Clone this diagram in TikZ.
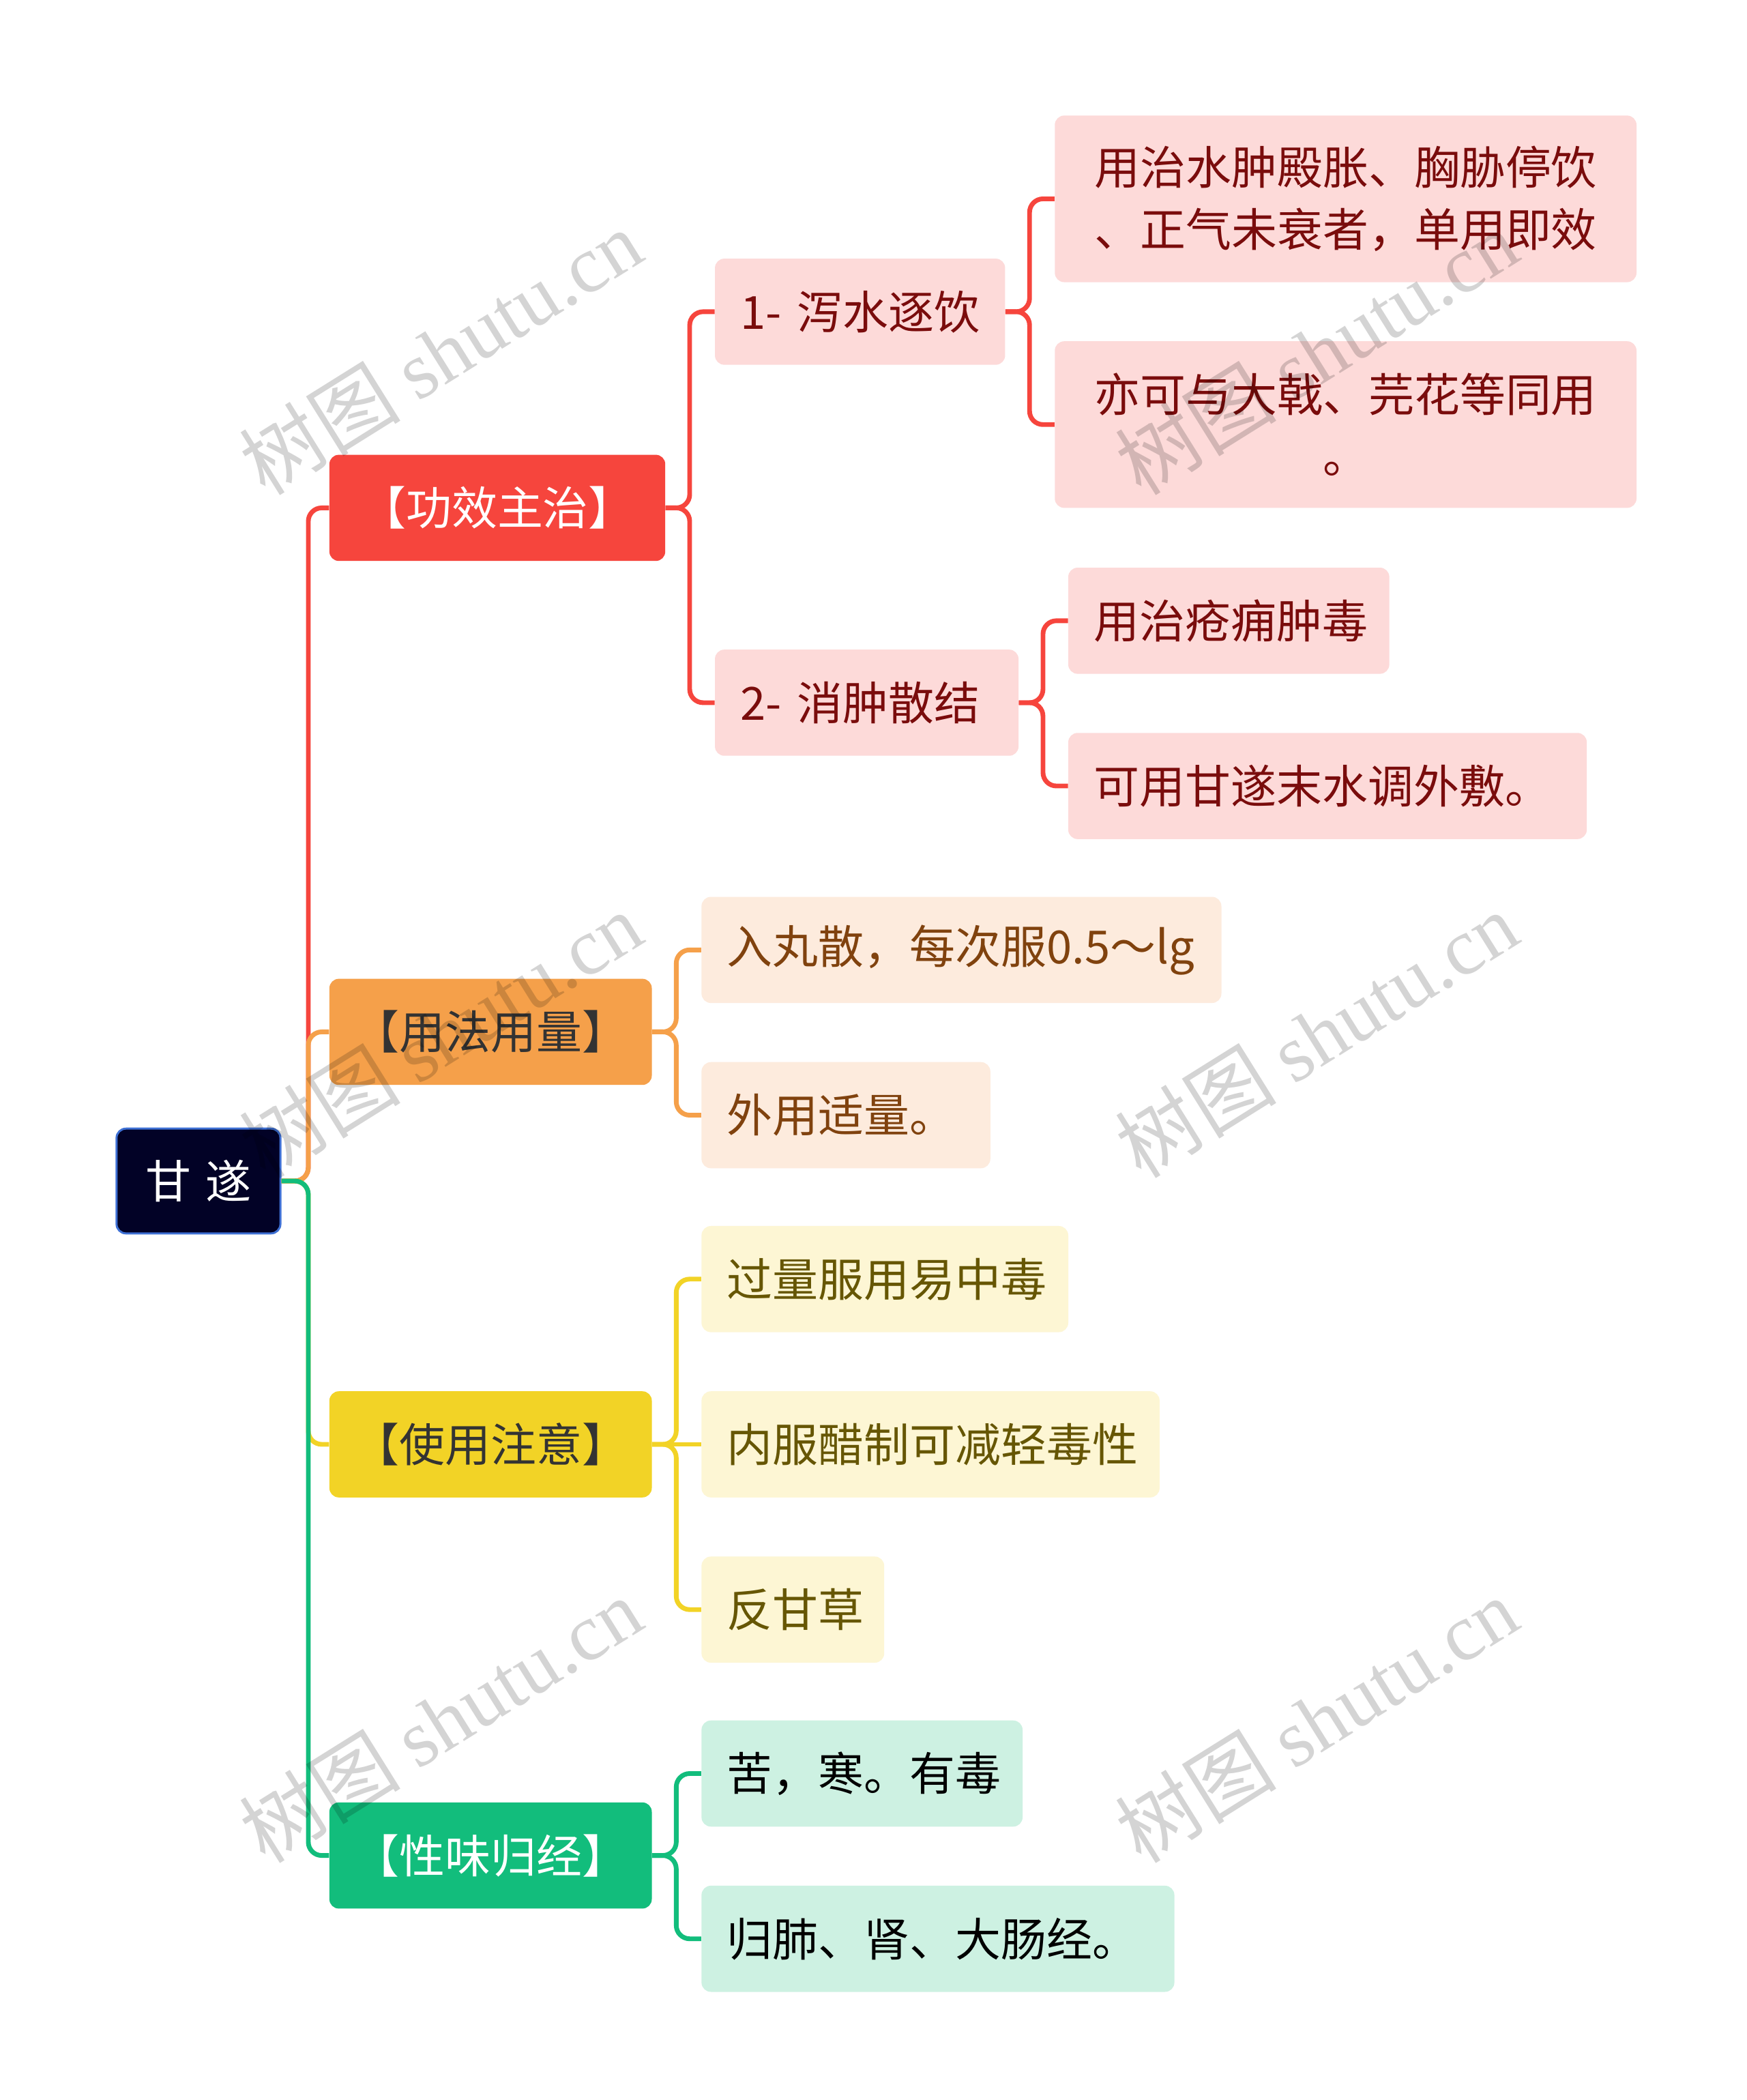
\documentclass[tikz,border=0pt]{standalone}
\usepackage{fontspec}
\setmainfont{Noto Sans CJK SC}
\newfontfamily\wmlatin{Liberation Serif}
\usepackage{xcolor}
\usetikzlibrary{positioning}
\definecolor{rootnavy}{RGB}{2, 2, 38}
\definecolor{rootedge}{RGB}{62, 112, 212}
\definecolor{redmain}{RGB}{246, 69, 61}
\definecolor{redlight}{RGB}{253, 218, 217}
\definecolor{redtext}{RGB}{122, 12, 12}
\definecolor{orangemain}{RGB}{245, 160, 74}
\definecolor{orangelight}{RGB}{253, 235, 221}
\definecolor{orangetext}{RGB}{128, 66, 14}
\definecolor{yellowmain}{RGB}{242, 211, 38}
\definecolor{yellowlight}{RGB}{253, 246, 212}
\definecolor{yellowtext}{RGB}{102, 86, 4}
\definecolor{greenmain}{RGB}{18, 189, 124}
\definecolor{greenlight}{RGB}{205, 241, 226}
\definecolor{greentext}{RGB}{0, 0, 0}
\definecolor{darktext}{RGB}{51, 51, 51}

\begin{document}
\begin{tikzpicture}[x=1pt, y=-1pt,
    box/.style={rounded corners=7pt, anchor=west, minimum height=79pt,
        inner ysep=0pt, font=\fontsize{34pt}{46pt}\selectfont},
    cat/.style={box, fill=#1main, inner xsep=0pt},
    leaf/.style={box, fill=#1light, text=#1text, inner xsep=19pt, align=left},
    link/.style={draw=#1main, line width=3.5pt, rounded corners=10pt},
    wmark/.style={rotate=32, text=black, text opacity=0.17,
        font=\fontsize{60pt}{60pt}\selectfont}]
    \path[use as bounding box, fill=white] (0,0) rectangle (1300,1563);

    % Root
    \node[box, fill=rootnavy, draw=rootedge, line width=1.5pt, text=white,
        minimum width=122pt, minimum height=78pt] (root) at (86,879) {甘\hspace{0.3em}遂};

    % Main branches
    \node[cat=red, text=white, minimum width=250pt] (gx) at (245,378) {【功效主治】};
    \node[cat=orange, text=darktext, minimum width=240pt] (yf) at (245,768) {【用法用量】};
    \node[cat=yellow, text=darktext, minimum width=240pt] (zy) at (245,1075) {【使用注意】};
    \node[cat=green, text=white, minimum width=240pt] (xw) at (245,1381) {【性味归经】};

    % 功效主治
    \node[leaf=red, text width=178pt] (gx1) at (532,232) {\mbox{1- 泻水逐饮}};
    \node[leaf=red, text width=188pt] (gx2) at (532,523) {\mbox{2- 消肿散结}};
    \node[leaf=red, align=center, text width=395pt, minimum height=124pt] (gx11) at (785,148)
        {用治水肿殿胀、胸胁停饮\\、正气未衰者，单用即效};
    \node[leaf=red, align=center, text width=395pt, minimum height=124pt] (gx12) at (785,316)
        {亦可与大戟、芫花等同用\\。};
    \node[leaf=red, text width=201pt] (gx21) at (795,462) {用治疮痈肿毒};
    \node[leaf=red, text width=348pt] (gx22) at (795,585) {可用甘遂末水调外敷。};

    % 用法用量
    \node[leaf=orange, text width=349pt] (yf1) at (522,707) {入丸散，每次服0.5～lg};
    \node[leaf=orange, text width=177pt] (yf2) at (522,830) {外用适量。};

    % 使用注意
    \node[leaf=yellow, text width=235pt] (zy1) at (522,952) {过量服用易中毒};
    \node[leaf=yellow, text width=303pt] (zy2) at (522,1075) {内服醋制可减轻毒性};
    \node[leaf=yellow, text width=98pt] (zy3) at (522,1198) {反甘草};

    % 性味归经
    \node[leaf=green, text width=201pt] (xw1) at (522,1320) {苦，寒。有毒};
    \node[leaf=green, text width=314pt] (xw2) at (522,1443) {归肺、肾、大肠经。};

    % Connectors
    \draw[link=red] (root.east) -- ++(20,0) |- (gx.west);
    \draw[link=orange] (root.east) -- ++(20,0) |- (yf.west);
    \draw[link=yellow] (root.east) -- ++(20,0) |- (zy.west);
    \draw[link=green] (root.east) -- ++(20,0) |- (xw.west);

    \draw[link=red] (gx.east) -- ++(18,0) |- (gx1.west);
    \draw[link=red] (gx.east) -- ++(18,0) |- (gx2.west);
    \draw[link=red] (gx1.east) -- ++(18,0) |- (gx11.west);
    \draw[link=red] (gx1.east) -- ++(18,0) |- (gx12.west);
    \draw[link=red] (gx2.east) -- ++(18,0) |- (gx21.west);
    \draw[link=red] (gx2.east) -- ++(18,0) |- (gx22.west);

    \draw[link=orange] (yf.east) -- ++(18,0) |- (yf1.west);
    \draw[link=orange] (yf.east) -- ++(18,0) |- (yf2.west);

    \draw[link=yellow] (zy.east) -- ++(18,0) |- (zy1.west);
    \draw[link=yellow] (zy.east) -- (zy2.west);
    \draw[link=yellow] (zy.east) -- ++(18,0) |- (zy3.west);

    \draw[link=green] (xw.east) -- ++(18,0) |- (xw1.west);
    \draw[link=green] (xw.east) -- ++(18,0) |- (xw2.west);

    % Watermarks
    \node[wmark] (wm1) at (328,262) {树图 {\wmlatin shutu.cn}};
    \node[wmark] (wm2) at (980,262) {树图 {\wmlatin shutu.cn}};
    \node[wmark] (wm3) at (328,770) {树图 {\wmlatin shutu.cn}};
    \node[wmark] (wm4) at (980,770) {树图 {\wmlatin shutu.cn}};
    \node[wmark] (wm5) at (328,1280) {树图 {\wmlatin shutu.cn}};
    \node[wmark] (wm6) at (980,1280) {树图 {\wmlatin shutu.cn}};
\end{tikzpicture}
\end{document}
